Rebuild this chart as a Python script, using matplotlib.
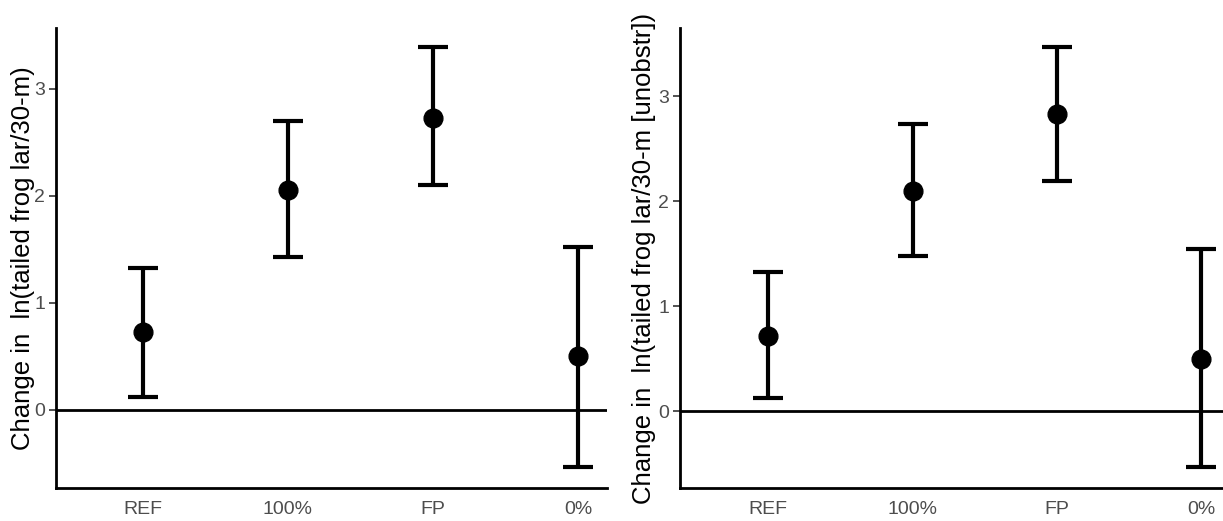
import matplotlib
matplotlib.use("Agg")
import matplotlib.pyplot as plt

categories = ["REF", "100%", "FP", "0%"]

left_est = [0.73, 2.06, 2.73, 0.50]
left_lo = [0.12, 1.43, 2.10, -0.53]
left_hi = [1.33, 2.70, 3.39, 1.52]

right_est = [0.72, 2.10, 2.83, 0.50]
right_lo = [0.13, 1.48, 2.19, -0.53]
right_hi = [1.33, 2.74, 3.47, 1.55]

left_label = "Change in  ln(tailed frog lar/30-m)"
right_label = "Change in  ln(tailed frog lar/30-m [unobstr])"
yticks = [0, 1, 2, 3]

plt.rcParams['font.family'] = ['Liberation Sans', 'DejaVu Sans']

fig = plt.figure(figsize=(12.23, 5.21), dpi=100)
ax1 = fig.add_axes([56/1223, 1-488/521, (607-56)/1223, (488-28)/521])
ax2 = fig.add_axes([680/1223, 1-488/521, (1223-680)/1223, (488-28)/521])

def draw(ax, est, lo, hi, label, ylim, xlim, labx):
    x = list(range(1, len(categories)+1))
    yerr = [[e - l for e, l in zip(est, lo)], [h - e for e, h in zip(est, hi)]]
    ax.axhline(0, color='black', lw=2, zorder=1)
    ax.errorbar(x, est, yerr=yerr, fmt='o', color='black', ms=13.5,
                elinewidth=3, capsize=10.5, capthick=3, zorder=3)
    ax.set_xlim(*xlim)
    ax.set_ylim(*ylim)
    ax.set_xticks(x)
    ax.set_xticklabels(categories)
    ax.set_yticks(yticks)
    for s in ['top', 'right']:
        ax.spines[s].set_visible(False)
    for s in ['left', 'bottom']:
        ax.spines[s].set_linewidth(2)
    ax.tick_params(axis='x', length=0, labelsize=14, labelcolor='#4d4d4d', pad=9)
    ax.tick_params(axis='y', length=5, width=1.2, color='#333333', labelsize=14,
                   labelcolor='#4d4d4d', pad=3)
    ax.set_ylabel(label, fontsize=18.5, color='black')
    ax.yaxis.set_label_coords(labx, 0.5)

draw(ax1, left_est, left_lo, left_hi, left_label, (-0.73, 3.57), (0.4, 4.2), -0.038)
draw(ax2, right_est, right_lo, right_hi, right_label, (-0.73, 3.65), (0.39, 4.15), -0.044)

fig.savefig("out.png", dpi=100)
